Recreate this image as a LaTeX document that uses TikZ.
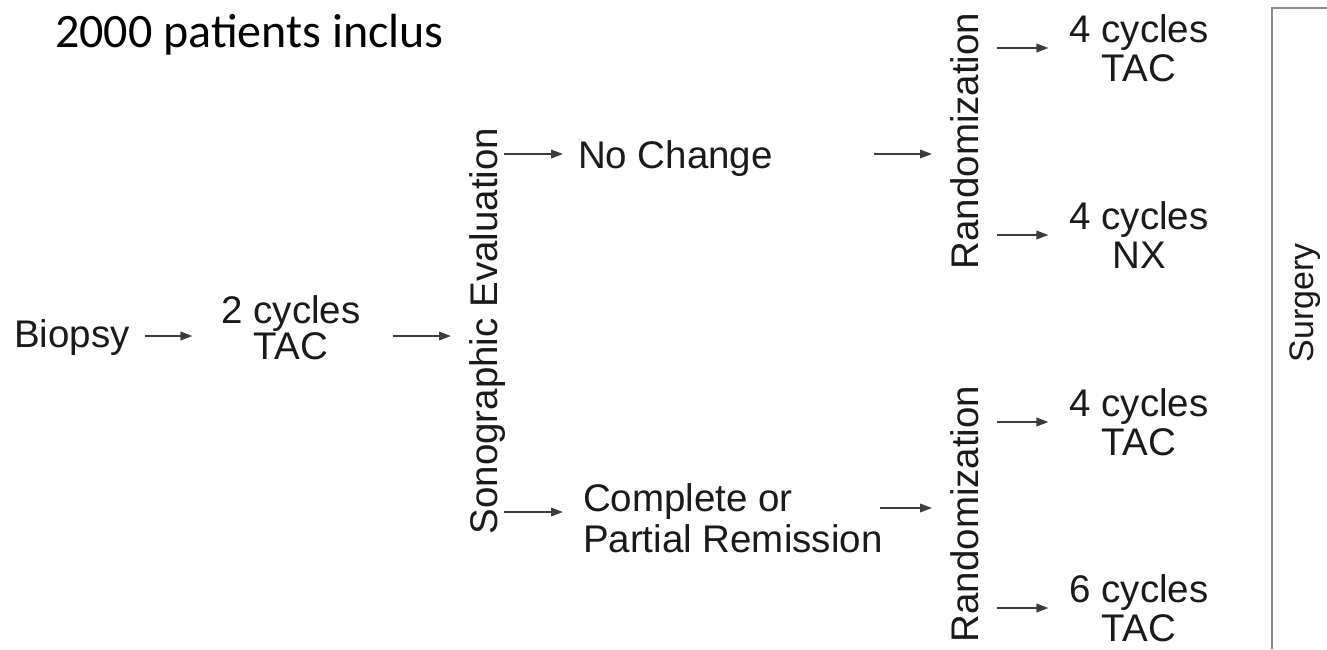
\documentclass[tikz,border=0pt]{standalone}
\usepackage{fontspec}
\setmainfont{Liberation Sans}
\newfontfamily\calib{Carlito}
\usetikzlibrary{arrows.meta,calc}
\definecolor{txt}{HTML}{1A1A1A}
\definecolor{arr}{HTML}{3C3C3C}
\definecolor{boxline}{HTML}{8A8A8A}
\tikzset{
  txtbase/.style={inner sep=0pt, outer sep=0pt, text=txt, font=\fontsize{38.5}{35}\selectfont},
  lbl/.style={txtbase, text height=28pt, text depth=0pt},
  two/.style={txtbase, align=center, font=\fontsize{38.5}{39}\selectfont},
  vert/.style={lbl, rotate=90},
  arrw/.style={draw=arr, line width=1.8pt, -{Triangle[length=12pt,width=8.5pt]}},
}
\begin{document}
\begin{tikzpicture}[x=1pt,y=-1pt]
\useasboundingbox (0,0) rectangle (1327,649);
\fill[white] (0,0) rectangle (1327,649);

\node[anchor=base west, inner sep=0pt, text=black, font=\calib\fontsize{48}{50}\selectfont] (title) at (55,47) {2000 patients inclus};

\node[lbl] (biopsy) at (72,333) {Biopsy};
\node[two, font=\fontsize{38.5}{36}\selectfont] (c2) at (291,328) {2 cycles\\TAC};
\node[vert] (sono) at (483,331) {Sonographic Evaluation};
\node[lbl, anchor=west] (nochange) at (578,154) {No Change};
\node[two, align=left, anchor=west, font=\fontsize{38.5}{41}\selectfont] (remission) at (583,518) {Complete or\\Partial Remission};
\node[vert] (rand1) at (964,141) {Randomization};
\node[vert] (rand2) at (964,514) {Randomization};
\node[two] (t1) at (1139,48) {4 cycles\\TAC};
\node[two] (t2) at (1139,235) {4 cycles\\NX};
\node[two] (t3) at (1139,422) {4 cycles\\TAC};
\node[two] (t4) at (1139,608) {6 cycles\\TAC};
\node[vert, font=\fontsize{34}{36}\selectfont, text height=25pt] (surgery) at (1301,303) {Surgery};

\draw[boxline, line width=2.5pt] (1272,649) -- (1272,8) -- (1327,8);

\draw[arrw] ($(biopsy.east)+(15,3)$) -- ($(c2.west |- biopsy.east)+(-29,3)$);
\draw[arrw] ($(c2.east |- biopsy.east)+(32,3)$) -- ($(sono.north |- biopsy.east)+(-18,3)$);
\draw[arrw] ($(sono.south |- nochange.west)+(7,0)$) -- ($(nochange.west)+(-15,0)$);
\draw[arrw] ($(nochange.east)+(101,0)$) -- ($(rand1.north |- nochange.east)+(-18,0)$);
\draw[arrw] ($(sono.south |- remission.west)+(7,-6)$) -- ($(remission.west)+(-20,-6)$);
\draw[arrw] ($(rand2.north |- remission.east)+(-70,-10)$) -- ($(rand2.north |- remission.east)+(-18,-10)$);
\draw[arrw] ($(rand1.south |- t1.west)+(19,0)$) -- ($(t1.west)+(-21,0)$);
\draw[arrw] ($(rand1.south |- t2.west)+(19,0)$) -- ($(t2.west)+(-21,0)$);
\draw[arrw] ($(rand2.south |- t3.west)+(19,0)$) -- ($(t3.west)+(-21,0)$);
\draw[arrw] ($(rand2.south |- t4.west)+(19,0)$) -- ($(t4.west)+(-21,0)$);
\end{tikzpicture}
\end{document}
